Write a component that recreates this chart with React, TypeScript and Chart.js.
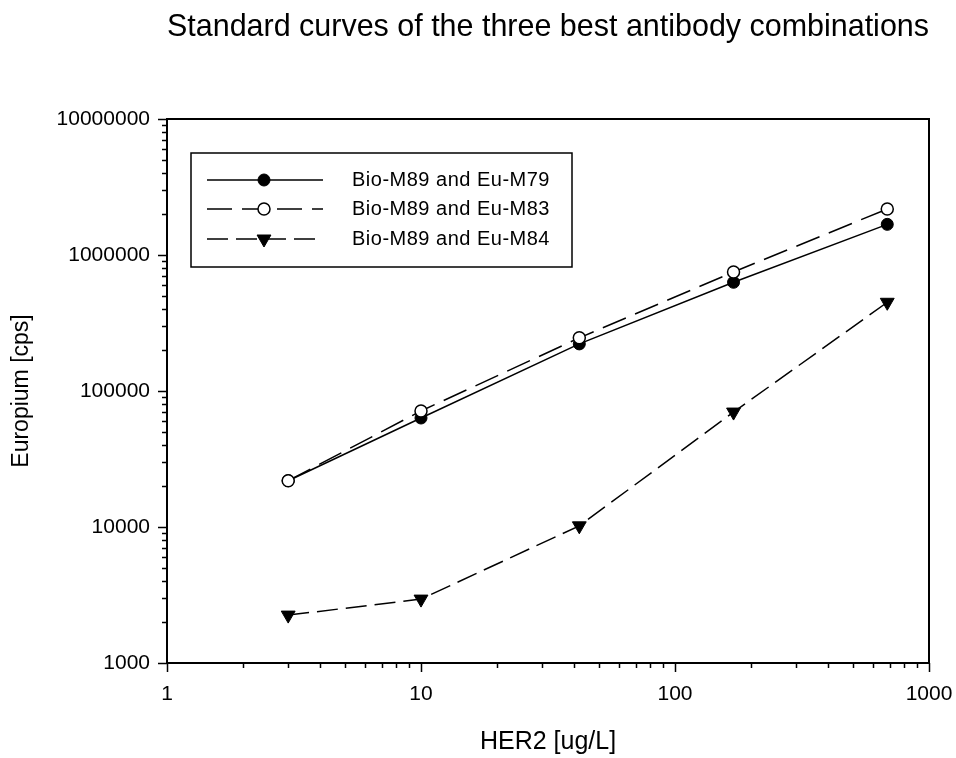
import { useEffect, useRef } from 'react';
import { Chart, registerables } from 'chart.js';

Chart.register(...registerables);

// ---- data ----
const her2 = [3, 10, 42, 170, 685];
const euM79 = [21900, 63300, 222000, 630000, 1680000];
const euM83 = [21900, 71300, 246000, 750000, 2180000];
const euM84 = [2250, 2950, 10200, 70000, 449000];
const seriesNames = ['Bio-M89 and Eu-M79', 'Bio-M89 and Eu-M83', 'Bio-M89 and Eu-M84'];
const xTickLabels = [1, 10, 100, 1000];
const yTickLabels = [1000, 10000, 100000, 1000000, 10000000];

const FONT = "'Liberation Sans', Arial, Helvetica, sans-serif";

function allTicks(majors: number[]) {
  const out: { v: number; major: boolean }[] = [];
  majors.forEach((m, i) => {
    out.push({ v: m, major: true });
    if (i < majors.length - 1) {
      for (let k = 2; k <= 9; k++) out.push({ v: m * k, major: false });
    }
  });
  return out;
}

const frameTicksPlugin = {
  id: 'frameTicks',
  afterDatasetsDraw(chart: any) {
    const { ctx, chartArea: a, scales } = chart;
    ctx.save();
    ctx.strokeStyle = '#000';
    ctx.setLineDash([]);
    ctx.lineWidth = 2;
    ctx.strokeRect(a.left, a.top, a.right - a.left, a.bottom - a.top);
    ctx.lineWidth = 1.5;
    ctx.beginPath();
    allTicks(xTickLabels).forEach((t) => {
      const px = Math.round(scales.x.getPixelForValue(t.v)) + 0.5;
      const len = t.major ? 9 : 5;
      ctx.moveTo(px, a.bottom);
      ctx.lineTo(px, a.bottom + len);
    });
    allTicks(yTickLabels).forEach((t) => {
      const py = Math.round(scales.y.getPixelForValue(t.v)) + 0.5;
      const len = t.major ? 9 : 5;
      ctx.moveTo(a.left, py);
      ctx.lineTo(a.left - len, py);
    });
    ctx.stroke();
    ctx.restore();
  },
};

const boxLegendPlugin = {
  id: 'boxLegend',
  afterDraw(chart: any) {
    const { ctx, chartArea: a } = chart;
    const left = a.left + 24;
    const top = a.top + 34;
    const w = 381;
    const h = 114;
    ctx.save();
    ctx.fillStyle = '#fff';
    ctx.fillRect(left, top, w, h);
    ctx.strokeStyle = '#000';
    ctx.lineWidth = 1.5;
    ctx.setLineDash([]);
    ctx.strokeRect(left, top, w, h);
    const rows = [27, 56, 86];
    chart.data.datasets.forEach((ds: any, i: number) => {
      const y = top + rows[i];
      ctx.strokeStyle = '#000';
      ctx.lineWidth = ds.borderWidth;
      ctx.setLineDash(ds.borderDash || []);
      ctx.beginPath();
      ctx.moveTo(left + 16, y);
      ctx.lineTo(left + 132, y);
      ctx.stroke();
      ctx.setLineDash([]);
      const mx = left + 73;
      const r = ds.pointRadius;
      ctx.fillStyle = ds.pointBackgroundColor;
      ctx.lineWidth = ds.pointBorderWidth;
      ctx.beginPath();
      if (ds.pointStyle === 'triangle') {
        ctx.moveTo(mx, y + r);
        ctx.lineTo(mx - 0.866 * r, y - 0.5 * r);
        ctx.lineTo(mx + 0.866 * r, y - 0.5 * r);
        ctx.closePath();
      } else {
        ctx.arc(mx, y, r, 0, Math.PI * 2);
      }
      ctx.fill();
      ctx.stroke();
      ctx.fillStyle = '#000';
      ctx.font = `20px ${FONT}`;
      try { (ctx as any).letterSpacing = '0.5px'; } catch (e) { /* ignore */ }
      ctx.textBaseline = 'middle';
      ctx.textAlign = 'left';
      ctx.fillText(seriesNames[i], left + 161, y);
      try { (ctx as any).letterSpacing = '0px'; } catch (e) { /* ignore */ }
    });
    ctx.restore();
  },
};

export default function App() {
  const ref = useRef<HTMLCanvasElement | null>(null);
  useEffect(() => {
    if (!ref.current) return;
    const pts = (ys: number[]) => her2.map((x, i) => ({ x, y: ys[i] }));
    const chart = new Chart(ref.current, {
      type: 'scatter',
      data: {
        datasets: [
          {
            label: seriesNames[0],
            data: pts(euM79),
            showLine: true,
            borderColor: '#000',
            borderWidth: 1.5,
            borderDash: [],
            pointStyle: 'circle',
            pointRadius: 6,
            pointBackgroundColor: '#000',
            pointBorderColor: '#000',
            pointBorderWidth: 1,
            order: 1,
          },
          {
            label: seriesNames[1],
            data: pts(euM83),
            showLine: true,
            borderColor: '#000',
            borderWidth: 1.5,
            borderDash: [25, 10],
            pointStyle: 'circle',
            pointRadius: 6,
            pointBackgroundColor: '#fff',
            pointBorderColor: '#000',
            pointBorderWidth: 1.5,
            order: 0,
          },
          {
            label: seriesNames[2],
            data: pts(euM84),
            showLine: true,
            borderColor: '#000',
            borderWidth: 1.5,
            borderDash: [21, 8],
            pointStyle: 'triangle',
            pointRotation: 180,
            pointRadius: 8,
            pointBackgroundColor: '#000',
            pointBorderColor: '#000',
            pointBorderWidth: 1,
            order: 2,
          },
        ] as any,
      },
      options: {
        responsive: false,
        animation: false,
        devicePixelRatio: 1,
        layout: { padding: { left: 0, right: 27, top: 0, bottom: 0 } },
        plugins: {
          legend: { display: false },
          tooltip: { enabled: false },
          title: {
            display: true,
            text: 'Standard curves of the three best antibody combinations',
            color: '#000',
            fullSize: false,
            font: { family: FONT, size: 30.5, weight: 'normal' },
            padding: { top: 9, bottom: 73.4 },
          },
        },
        scales: {
          x: {
            type: 'logarithmic',
            position: 'bottom',
            min: 1,
            max: 1000,
            grid: { display: false, drawTicks: false },
            border: { display: false },
            afterBuildTicks: (s: any) => {
              s.ticks = xTickLabels.map((v) => ({ value: v }));
            },
            afterFit: (s: any) => {
              s.height = 95;
              s.paddingLeft = 0;
              s.paddingRight = 0;
            },
            ticks: {
              autoSkip: false,
              maxRotation: 0,
              padding: 19,
              color: '#000',
              font: { family: FONT, size: 21 },
              callback: (v: any) => String(v),
            },
            title: {
              display: true,
              text: 'HER2 [ug/L]',
              color: '#000',
              font: { family: FONT, size: 25 },
              padding: { top: 0, bottom: 1 },
            },
          },
          y: {
            type: 'logarithmic',
            position: 'left',
            min: 1000,
            max: 10000000,
            grid: { display: false, drawTicks: false },
            border: { display: false },
            afterBuildTicks: (s: any) => {
              s.ticks = yTickLabels.map((v) => ({ value: v }));
            },
            afterFit: (s: any) => {
              s.width = 167;
              s.paddingTop = 0;
              s.paddingBottom = 0;
            },
            ticks: {
              autoSkip: false,
              padding: 17,
              color: '#000',
              font: { family: FONT, size: 21 },
              callback: (v: any) => String(Math.round(v)),
            },
            title: {
              display: true,
              text: 'Europium [cps]',
              color: '#000',
              font: { family: FONT, size: 23 },
              padding: { top: 8, bottom: 0 },
            },
          },
        },
      } as any,
      plugins: [frameTicksPlugin, boxLegendPlugin],
    });
    return () => chart.destroy();
  }, []);
  return (
    <div style={{ position: 'fixed', left: 0, top: 0, width: 956, height: 758, background: '#fff' }}>
      <canvas ref={ref} width={956} height={758} style={{ width: 956, height: 758, display: 'block' }} />
    </div>
  );
}
